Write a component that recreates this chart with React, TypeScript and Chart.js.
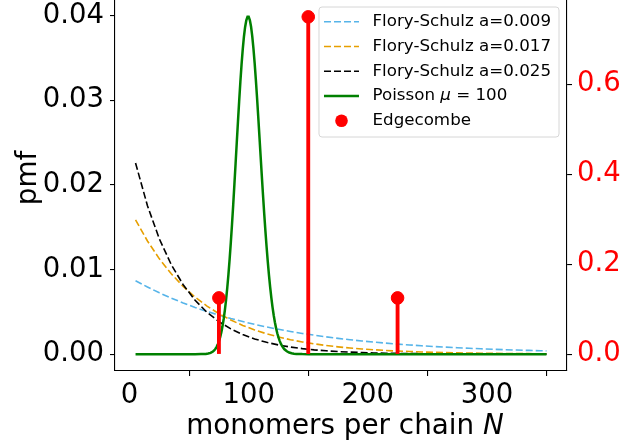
import React, { useEffect, useRef } from 'react';
import { Chart, registerables } from 'chart.js';

Chart.register(...registerables);

// ---- data ----
const nGrid = [5, 15, 25, 35, 45, 55, 65, 75, 85, 95, 105, 115, 125, 135, 145, 155, 165, 175, 185, 195, 205, 215, 225, 235, 245, 255, 265, 275, 285, 295, 305, 315, 325, 335, 345, 350];
const fs009 = [0.008680, 0.007930, 0.007245, 0.006619, 0.006047, 0.005524, 0.005047, 0.004611, 0.004212, 0.003848, 0.003515, 0.003212, 0.002934, 0.002680, 0.002449, 0.002237, 0.002044, 0.001867, 0.001706, 0.001558, 0.001424, 0.001301, 0.001188, 0.001086, 0.000992, 0.000906, 0.000828, 0.000756, 0.000691, 0.000631, 0.000577, 0.000527, 0.000481, 0.000440, 0.000402, 0.000384];
const fs017 = [0.015873, 0.013372, 0.011265, 0.009490, 0.007995, 0.006735, 0.005674, 0.004780, 0.004027, 0.003392, 0.002858, 0.002408, 0.002028, 0.001709, 0.001440, 0.001213, 0.001022, 0.000861, 0.000725, 0.000611, 0.000515, 0.000433, 0.000365, 0.000308, 0.000259, 0.000218, 0.000184, 0.000155, 0.000131, 0.000110, 0.000093, 0.000078, 0.000066, 0.000055, 0.000047, 0.000043];
const fs025 = [0.022592, 0.017539, 0.013616, 0.010570, 0.008206, 0.006371, 0.004946, 0.003840, 0.002981, 0.002314, 0.001796, 0.001395, 0.001083, 0.000841, 0.000653, 0.000507, 0.000393, 0.000305, 0.000237, 0.000184, 0.000143, 0.000111, 0.000086, 0.000067, 0.000052, 0.000040, 0.000031, 0.000024, 0.000019, 0.000015, 0.000011, 0.000009, 0.000007, 0.000005, 0.000004, 0.000004];

const poissonN = [5, 50, 55, 60, 62, 64, 66, 68, 70, 71, 72, 73, 74, 75, 76, 77, 78, 79, 80, 81, 82, 83, 84, 85, 86, 87, 88, 89, 90, 91, 92, 93, 94, 95, 96, 97, 98, 99, 100, 101, 102, 103, 104, 105, 106, 107, 108, 109, 110, 111, 112, 113, 114, 115, 116, 117, 118, 119, 120, 121, 122, 123, 124, 125, 126, 127, 128, 129, 130, 132, 134, 136, 138, 140, 145, 150, 160, 350];
const poissonPmf = [0, 0, 0.0000002, 0.0000045, 0.0000118, 0.0000293, 0.0000684, 0.000150, 0.000311, 0.000437, 0.000608, 0.000832, 0.001125, 0.001500, 0.001973, 0.002562, 0.003285, 0.004158, 0.005198, 0.006417, 0.007826, 0.009428, 0.011224, 0.013205, 0.015355, 0.017649, 0.020056, 0.022535, 0.025039, 0.027515, 0.029908, 0.032159, 0.034212, 0.036012, 0.037513, 0.038673, 0.039463, 0.039861, 0.039861, 0.039466, 0.038692, 0.037565, 0.036120, 0.034400, 0.032453, 0.030330, 0.028083, 0.025764, 0.023422, 0.021101, 0.018840, 0.016673, 0.014625, 0.012718, 0.010964, 0.009371, 0.007941, 0.006673, 0.005561, 0.004596, 0.003767, 0.003063, 0.002470, 0.001976, 0.001568, 0.001235, 0.000965, 0.000748, 0.000575, 0.000333, 0.000187, 0.000102, 0.0000539, 0.0000277, 0.0000046, 0.0000007, 0, 0];

const edgeN = [75, 150, 225];
const edgeFrac = [0.125, 0.75, 0.125];

const xTicks = [0, 100, 200, 300];
const leftTicks = [0, 0.01, 0.02, 0.03, 0.04];
const rightTicks = [0, 0.2, 0.4, 0.6];

const seriesLabels = ['Flory-Schulz a=0.009', 'Flory-Schulz a=0.017', 'Flory-Schulz a=0.025', 'Poisson', 'Edgecombe'];
const xTitle = 'monomers per chain ';
const xTitleVar = 'N';
const yTitle = 'pmf';

const FONT = '"DejaVu Sans", sans-serif';
const BLUE = '#56B4E9';
const ORANGE = '#E69F00';
const GREEN = '#008000';
const RED = '#ff0000';
const DASH = [7, 3];

const overlayPlugin = {
  id: 'overlay',
  afterDraw(chart: any) {
    const ctx: CanvasRenderingContext2D = chart.ctx;
    const area = chart.chartArea;
    ctx.save();
    // x title
    ctx.fillStyle = '#000';
    ctx.textBaseline = 'alphabetic';
    ctx.textAlign = 'left';
    const normal = `27.8px ${FONT}`;
    const italic = `italic 27.8px ${FONT}`;
    ctx.font = normal;
    const w1 = ctx.measureText(xTitle).width;
    ctx.font = italic;
    const w2 = ctx.measureText(xTitleVar).width;
    const cx = (area.left + area.right) / 2 + 4;
    const x0 = cx - (w1 + w2) / 2;
    ctx.font = normal;
    ctx.fillText(xTitle, x0, 434);
    ctx.font = italic;
    ctx.fillText(xTitleVar, x0 + w1, 434);

    // y title
    ctx.save();
    ctx.translate(36, 178);
    ctx.rotate(-Math.PI / 2);
    ctx.font = normal;
    ctx.textAlign = 'center';
    ctx.fillText(yTitle, 0, 0);
    ctx.restore();

    // legend
    const fsz = 16.7;
    const lf = `${fsz}px ${FONT}`;
    const lfi = `italic ${fsz}px ${FONT}`;
    ctx.font = lf;
    let maxW = 0;
    for (let i = 0; i < 3; i++) maxW = Math.max(maxW, ctx.measureText(seriesLabels[i]).width);
    const right = area.right - 8;
    const top = area.top + 7;
    const width = 5 + 35 + 13.5 + maxW + 8;
    const left = right - width;
    const height = 130;
    const r = 3;
    ctx.beginPath();
    ctx.moveTo(left + r, top);
    ctx.lineTo(right - r, top);
    ctx.quadraticCurveTo(right, top, right, top + r);
    ctx.lineTo(right, top + height - r);
    ctx.quadraticCurveTo(right, top + height, right - r, top + height);
    ctx.lineTo(left + r, top + height);
    ctx.quadraticCurveTo(left, top + height, left, top + height - r);
    ctx.lineTo(left, top + r);
    ctx.quadraticCurveTo(left, top, left + r, top);
    ctx.closePath();
    ctx.fillStyle = 'rgba(255,255,255,0.8)';
    ctx.fill();
    ctx.strokeStyle = '#d6d6d6';
    ctx.lineWidth = 1;
    ctx.stroke();

    const colors = [BLUE, ORANGE, '#000000', GREEN, RED];
    const lx0 = left + 5;
    const lx1 = lx0 + 35;
    const tx = lx1 + 13.5;
    for (let i = 0; i < 5; i++) {
      const y = top + 14.7 + i * 24.75;
      ctx.strokeStyle = colors[i];
      if (i < 3) {
        ctx.setLineDash(DASH);
        ctx.lineWidth = 1.6;
        ctx.beginPath();
        ctx.moveTo(lx0, y);
        ctx.lineTo(lx1, y);
        ctx.stroke();
        ctx.setLineDash([]);
      } else if (i === 3) {
        ctx.lineWidth = 2.5;
        ctx.beginPath();
        ctx.moveTo(lx0, y);
        ctx.lineTo(lx1, y);
        ctx.stroke();
      } else {
        ctx.fillStyle = RED;
        ctx.beginPath();
        ctx.arc((lx0 + lx1) / 2, y, 6.3, 0, Math.PI * 2);
        ctx.fill();
      }
      ctx.fillStyle = '#000';
      ctx.textBaseline = 'middle';
      ctx.textAlign = 'left';
      if (i === 3) {
        ctx.font = lf;
        const p1 = seriesLabels[3] + ' ';
        ctx.fillText(p1, tx, y);
        let xx = tx + ctx.measureText(p1).width;
        ctx.font = lfi;
        ctx.fillText('μ', xx, y);
        xx += ctx.measureText('μ').width;
        ctx.font = lf;
        ctx.fillText(' = 100', xx, y);
      } else {
        ctx.font = lf;
        ctx.fillText(seriesLabels[i], tx, y);
      }
    }
    ctx.restore();
  },
};

function zeroPad(scale: any) {
  scale.paddingTop = 0;
  scale.paddingBottom = 0;
  scale.paddingLeft = 0;
  scale.paddingRight = 0;
  scale.getPadding = () => ({ left: 0, top: 0, right: 0, bottom: 0 });
}

export default function App() {
  const ref = useRef<HTMLCanvasElement | null>(null);
  useEffect(() => {
    if (!ref.current) return;
    const tickFont = { family: FONT, size: 27.5 };
    const gridOpts = { display: true, drawOnChartArea: false, drawTicks: true, tickLength: 5, color: '#000', lineWidth: 1.1 };
    const chart = new Chart(ref.current, {
      type: 'line',
      data: {
        datasets: [
          {
            type: 'scatter',
            label: 'Edgecombe markers',
            data: edgeN.map((n, i) => ({ x: n, y: edgeFrac[i] })),
            yAxisID: 'y2',
            backgroundColor: RED,
            borderColor: RED,
            pointRadius: 6.3,
            pointHoverRadius: 6.3,
            showLine: false,
            clip: false,
            order: 0,
          } as any,
          {
            type: 'bar',
            label: 'Edgecombe',
            data: edgeN.map((n, i) => ({ x: n, y: edgeFrac[i] })),
            yAxisID: 'y2',
            backgroundColor: RED,
            barThickness: 3.2,
            order: 1,
          } as any,
          {
            label: 'Poisson',
            data: poissonN.map((n, i) => ({ x: n, y: poissonPmf[i] })),
            yAxisID: 'y',
            borderColor: GREEN,
            borderWidth: 2.5,
            pointRadius: 0,
            tension: 0,
            order: 2,
          },
          {
            label: seriesLabels[2],
            data: nGrid.map((n, i) => ({ x: n, y: fs025[i] })),
            yAxisID: 'y',
            borderColor: '#000000',
            borderWidth: 1.6,
            borderDash: DASH,
            pointRadius: 0,
            order: 3,
          },
          {
            label: seriesLabels[1],
            data: nGrid.map((n, i) => ({ x: n, y: fs017[i] })),
            yAxisID: 'y',
            borderColor: ORANGE,
            borderWidth: 1.6,
            borderDash: DASH,
            pointRadius: 0,
            order: 4,
          },
          {
            label: seriesLabels[0],
            data: nGrid.map((n, i) => ({ x: n, y: fs009[i] })),
            yAxisID: 'y',
            borderColor: BLUE,
            borderWidth: 1.6,
            borderDash: DASH,
            pointRadius: 0,
            order: 5,
          },
        ],
      },
      options: {
        responsive: false,
        animation: false,
        devicePixelRatio: 1,
        layout: { padding: 0, autoPadding: false },
        plugins: { legend: { display: false }, tooltip: { enabled: false }, title: { display: false } },
        scales: {
          x: {
            type: 'linear',
            position: 'bottom',
            min: -12.25,
            max: 367.25,
            offset: false,
            afterBuildTicks: (s: any) => { s.ticks = xTicks.map((v) => ({ value: v })); },
            afterFit: (s: any) => { s.height = 75; zeroPad(s); },
            ticks: { font: tickFont, color: '#000', padding: 3, maxRotation: 0, autoSkip: false, callback: (v: any) => String(v) },
            grid: gridOpts,
            border: { display: true, color: '#000', width: 1.1 },
          },
          y: {
            type: 'linear',
            position: 'left',
            min: -0.001993,
            max: 0.041854,
            afterBuildTicks: (s: any) => { s.ticks = leftTicks.map((v) => ({ value: v })); },
            afterFit: (s: any) => { s.width = 115; zeroPad(s); },
            ticks: { font: tickFont, color: '#000', padding: 6, autoSkip: false, callback: (v: any) => Number(v).toFixed(2) },
            grid: gridOpts,
            border: { display: true, color: '#000', width: 1.1 },
          },
          y2: {
            type: 'linear',
            position: 'right',
            min: -0.0375,
            max: 0.7875,
            afterBuildTicks: (s: any) => { s.ticks = rightTicks.map((v) => ({ value: v })); },
            afterFit: (s: any) => { s.width = 54; zeroPad(s); },
            ticks: { font: tickFont, color: RED, padding: 5, autoSkip: false, callback: (v: any) => Number(v).toFixed(1) },
            grid: gridOpts,
            border: { display: true, color: '#000', width: 1.1 },
          },
        },
      } as any,
      plugins: [overlayPlugin],
    });
    return () => chart.destroy();
  }, []);
  return (
    <div style={{ position: 'fixed', left: 0, top: 0, width: 621, height: 446, background: '#fff' }}>
      <canvas ref={ref} width={621} height={446} style={{ width: 621, height: 446, display: 'block' }} />
    </div>
  );
}
